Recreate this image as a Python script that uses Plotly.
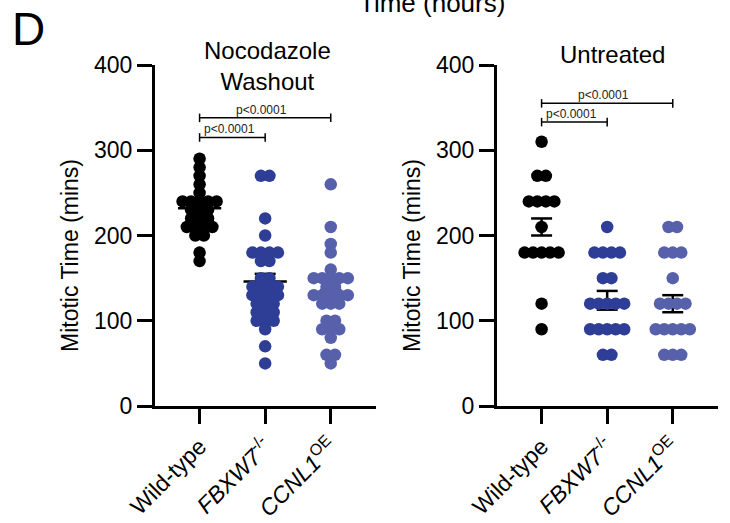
import plotly.graph_objects as go
from collections import Counter, defaultdict

# ---------------- data ----------------
categories = ["Wild-type", "<i>FBXW7</i><sup>-/-</sup>", "<i>CCNL1</i><sup>OE</sup>"]

wash_wt = [290, 280, 270, 260, 250, 240, 240, 240, 240, 240, 230, 230, 230,
           220, 220, 220, 210, 210, 210, 210, 200, 200, 180, 170]
wash_fbxw7 = [270, 270, 220, 200, 180, 180, 180, 180, 170, 170, 150, 150,
              140, 140, 140, 140, 130, 130, 130, 130, 120, 120, 120,
              110, 110, 110, 100, 100, 100, 90, 70, 50]
wash_ccnl1 = [260, 210, 190, 180, 160, 150, 150, 150, 150, 150, 140, 140,
              130, 130, 130, 130, 130, 120, 120, 120, 100, 100, 90, 90, 90,
              80, 60, 60, 50]

untr_wt = [310, 270, 270, 240, 240, 240, 240, 210, 180, 180, 180, 180, 180, 120, 90]
untr_fbxw7 = [210, 180, 180, 180, 180, 150, 150, 120, 120, 120, 120, 120,
              90, 90, 90, 90, 90, 60, 60]
untr_ccnl1 = [210, 210, 180, 180, 180, 150, 120, 120, 120, 120,
              90, 90, 90, 90, 90, 60, 60, 60]

wash_mean = [232, 146, 128]
wash_sem = [6, 9, 8]
untr_mean = [210, 124, 120]
untr_sem = [10, 11, 10]

pvalues = ["p<0.0001", "p<0.0001"]
wash_bracket_y = [338, 315]
untr_bracket_y = [355, 333]

colors = ["#000000", "#2e3e96", "#5761ab"]

# ---------------- layout helpers ----------------
W, H = 730, 523
def px(x):
    return x / W
def py(y):
    return 1 - y / H

XRANGE = [-0.68, 2.69]
PX_PER_CAT = 65.5
STEP = 8.5 / PX_PER_CAT


def swarm(values, step):
    counts = Counter(values)
    seen = defaultdict(int)
    offs = []
    for v in values:
        n = counts[v]
        i = seen[v]
        seen[v] += 1
        offs.append((i - (n - 1) / 2) * step)
    return offs


fig = go.Figure()

panels = [
    ("x", "y", [wash_wt, wash_fbxw7, wash_ccnl1], wash_mean, wash_sem, 0.33, wash_bracket_y),
    ("x2", "y2", [untr_wt, untr_fbxw7, untr_ccnl1], untr_mean, untr_sem, 0.09, untr_bracket_y),
]

for xa, ya, groups, means, sems, mean_hw, bys in panels:
    # mean and SEM lines (behind points)
    lx, ly = [], []
    cap = 0.16
    for i, (m, s) in enumerate(zip(means, sems)):
        lx += [i - mean_hw, i + mean_hw, None]
        ly += [m, m, None]
        lx += [i, i, None, i - cap, i + cap, None, i - cap, i + cap, None]
        ly += [m - s, m + s, None, m + s, m + s, None, m - s, m - s, None]
    fig.add_trace(go.Scatter(x=lx, y=ly, xaxis=xa, yaxis=ya, mode="lines",
                             line=dict(color="black", width=2.5),
                             hoverinfo="skip", showlegend=False))
    for i, vals in enumerate(groups):
        offs = swarm(vals, STEP)
        fig.add_trace(go.Scatter(
            x=[i + o for o in offs], y=vals, xaxis=xa, yaxis=ya, mode="markers",
            marker=dict(color=colors[i], size=12.5, line=dict(width=0)),
            showlegend=False))
    # significance brackets
    bx, byy = [], []
    tick = 5
    ends = [(0, 2), (0, 1)]
    for (a, b), yb in zip(ends, bys):
        bx += [a, b, None, a, a, None, b, b, None]
        byy += [yb, yb, None, yb - tick, yb + tick, None, yb - tick, yb + tick, None]
    fig.add_trace(go.Scatter(x=bx, y=byy, xaxis=xa, yaxis=ya, mode="lines",
                             line=dict(color="black", width=1.5),
                             hoverinfo="skip", showlegend=False))
    for (a, b), yb, pv in zip(ends, bys, pvalues):
        fig.add_annotation(x=(a + b) / 2 - 0.05, y=yb, xref=xa, yref=ya, text=pv,
                           showarrow=False, yanchor="bottom", xanchor="center",
                           yshift=-1, font=dict(size=12, color="#222222"))

FONT = "Arial, Liberation Sans, sans-serif"
axis_common = dict(
    range=XRANGE, showline=True, linecolor="black", linewidth=3,
    ticks="outside", ticklen=15, tickwidth=3, tickcolor="black",
    tickvals=[0, 1, 2], ticktext=categories, tickangle=-45,
    tickfont=dict(size=23, color="black", family=FONT),
    showgrid=False, zeroline=False, fixedrange=True, automargin=False,
)
yaxis_common = dict(
    range=[0, 400], showline=True, linecolor="black", linewidth=3,
    ticks="outside", ticklen=15, tickwidth=3, tickcolor="black",
    tickvals=[0, 100, 200, 300, 400],
    tickfont=dict(size=23, color="black", family=FONT),
    showgrid=False, zeroline=False, fixedrange=True, automargin=False,
)

fig.update_layout(
    width=W, height=H,
    margin=dict(l=0, r=0, t=0, b=0, autoexpand=False),
    paper_bgcolor="white", plot_bgcolor="white",
    font=dict(family=FONT, color="black"),
    xaxis=dict(domain=[px(155), px(376)], anchor="y", **axis_common),
    yaxis=dict(domain=[py(406), py(65)], anchor="x", **yaxis_common),
    xaxis2=dict(domain=[px(497), px(718)], anchor="y2", **axis_common),
    yaxis2=dict(domain=[py(406), py(65)], anchor="x2", **yaxis_common),
)

# titles and labels
fig.add_annotation(x=px(267), y=py(66), xref="paper", yref="paper",
                   text="Nocodazole<br>Washout", showarrow=False,
                   font=dict(size=24, family=FONT), xanchor="center", yanchor="middle")
fig.add_annotation(x=px(612), y=py(55), xref="paper", yref="paper",
                   text="Untreated", showarrow=False,
                   font=dict(size=24, family=FONT), xanchor="center", yanchor="middle")
for xx in [70, 412]:
    fig.add_annotation(x=px(xx), y=py(256), xref="paper", yref="paper",
                       text="Mitotic Time (mins)", textangle=-90, showarrow=False,
                       font=dict(size=23, family=FONT), xanchor="center", yanchor="middle")
fig.add_annotation(x=px(28), y=py(29), xref="paper", yref="paper",
                   text="D", showarrow=False, font=dict(size=46, family=FONT),
                   xanchor="center", yanchor="middle")
fig.add_annotation(x=px(432), y=py(3), xref="paper", yref="paper",
                   text="Time (hours)", showarrow=False,
                   font=dict(size=26, family=FONT), xanchor="center", yanchor="middle")

fig.write_html(
    "out.html",
    config={"displayModeBar": False},
    post_script="document.body.style.margin='0';document.body.style.overflow='hidden';",
)
